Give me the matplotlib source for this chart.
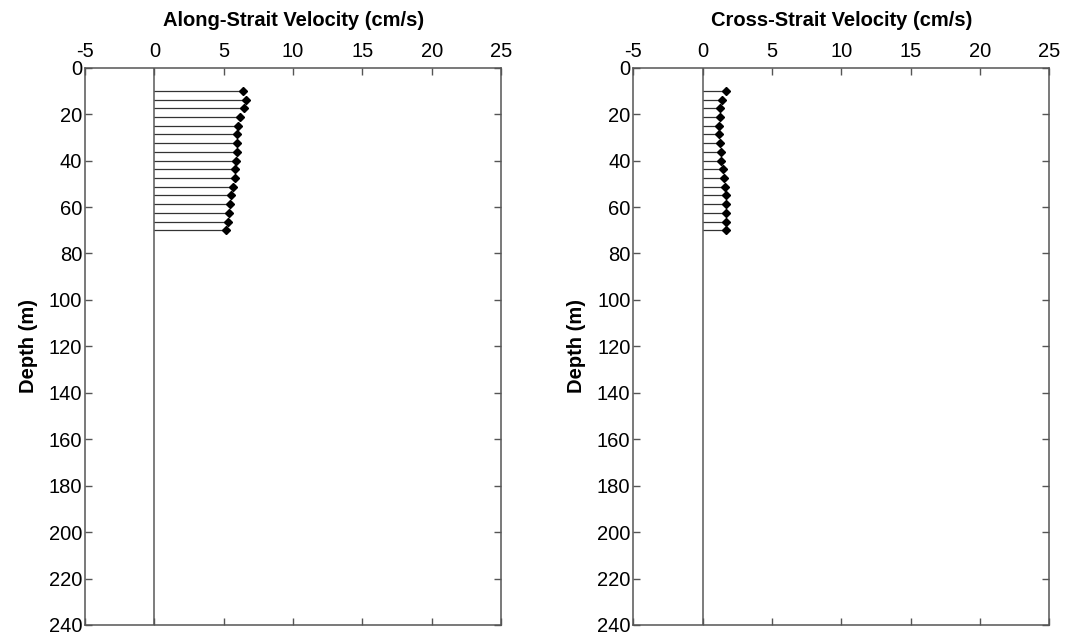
import matplotlib.pyplot as plt
import numpy as np

plt.rcParams['font.family'] = ['Liberation Sans', 'DejaVu Sans']
plt.rcParams['axes.unicode_minus'] = False

# depth bins (m)
depth = [10.0, 13.75, 17.5, 21.25, 25.0, 28.75, 32.5, 36.25, 40.0,
         43.75, 47.5, 51.25, 55.0, 58.75, 62.5, 66.25, 70.0]
# along-strait velocity (cm/s)
along = [6.36, 6.63, 6.44, 6.15, 6.03, 5.98, 5.95, 5.93, 5.86,
         5.81, 5.79, 5.67, 5.52, 5.48, 5.40, 5.28, 5.16]
# cross-strait velocity (cm/s)
cross = [1.66, 1.42, 1.27, 1.25, 1.20, 1.20, 1.25, 1.30, 1.35,
         1.44, 1.54, 1.61, 1.66, 1.66, 1.68, 1.68, 1.71]

titles = ['Along-Strait Velocity (cm/s)', 'Cross-Strait Velocity (cm/s)']
xticks = [-5, 0, 5, 10, 15, 20, 25]
yticks = list(range(0, 241, 20))

fig = plt.figure(figsize=(10.70, 6.39), dpi=100)
ax1 = fig.add_axes([0.0794, 0.022, 0.389, 0.872])
ax2 = fig.add_axes([0.5918, 0.022, 0.389, 0.872])

for ax, vals, title in zip([ax1, ax2], [along, cross], titles):
    ax.axvline(0, color='#666666', lw=1.2, zorder=1)
    ax.hlines(depth, 0, vals, color='#333333', lw=0.9, zorder=2)
    ax.plot(vals, depth, 'D', color='black', ms=4.5, zorder=3)
    ax.set_xlim(-5, 25)
    ax.set_ylim(240, 0)
    ax.set_xticks(xticks)
    ax.set_yticks(yticks)
    ax.xaxis.tick_top()
    ax.tick_params(axis='both', direction='in', top=True, bottom=True,
                   left=True, right=True, labeltop=True, labelbottom=False,
                   length=5, width=1, color='#555555', labelsize=14.5)
    ax.tick_params(axis='x', pad=4.5)
    ax.tick_params(axis='y', pad=2)
    for s in ax.spines.values():
        s.set_color('#555555')
        s.set_linewidth(1.1)
    ax.set_ylabel('Depth (m)', fontsize=14.5, fontweight='bold', labelpad=8)
    ax.set_title(title, fontsize=14.5, fontweight='bold', pad=30)

fig.savefig('out.png', dpi=100)
